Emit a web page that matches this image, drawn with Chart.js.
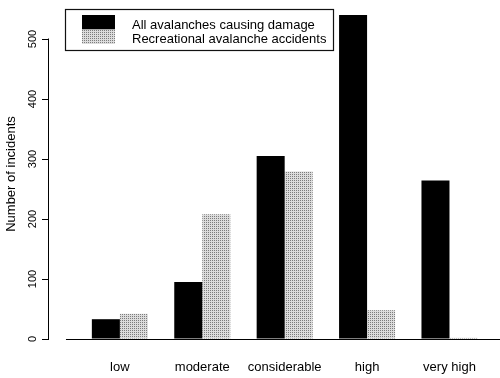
<!DOCTYPE html>
<html><head><meta charset="utf-8">
<script src="https://cdn.jsdelivr.net/npm/chart.js@4"></script>
<style>html,body{margin:0;padding:0;background:#fff}#wrap{width:500px;height:378px;position:relative}</style>
</head><body><div id="wrap"><canvas id="c"></canvas></div>
<script>
// ---- data ----
const categories = ['low', 'moderate', 'considerable', 'high', 'very high'];
const allDamage = [33, 95, 305, 540, 264];
const recreational = [42, 208, 279, 48, 2];
const seriesLabels = ['All avalanches causing damage', 'Recreational avalanche accidents'];
const yTicks = [0, 100, 200, 300, 400, 500];
const xTicks = [0, 1, 2, 3, 4];
const yAxisTitle = 'Number of incidents';

const FONT = '"Liberation Sans", Arial, Helvetica, sans-serif';
Chart.defaults.font.family = FONT;
Chart.defaults.color = '#000';

function stipple() {
  const c = document.createElement('canvas');
  c.width = 2; c.height = 2;
  const g = c.getContext('2d');
  g.fillStyle = '#dcdcdc'; g.fillRect(0, 0, 2, 2);
  g.fillStyle = '#7c7c7c'; g.fillRect(0, 0, 1, 1);
  return g.createPattern(c, 'repeat');
}
const grayFill = stipple();

const axisLines = {
  id: 'axisLines',
  afterDatasetsDraw(chart, args, o) {
    const ctx = chart.ctx, xs = chart.scales.x, ys = chart.scales.y;
    ctx.save();
    ctx.strokeStyle = '#000';
    ctx.lineWidth = 1;
    const yx = Math.round(ys.right) - 0.5;
    ctx.beginPath();
    ctx.moveTo(yx, Math.round(ys.getPixelForValue(yTicks[0])) + 0.5);
    ctx.lineTo(yx, Math.round(ys.getPixelForValue(yTicks[yTicks.length - 1])) - 0.5);
    ctx.stroke();
    const by = Math.round(ys.getPixelForValue(0)) + 0.5;
    ctx.beginPath();
    ctx.moveTo(xs.getPixelForValue(o.baselineFrom), by);
    ctx.lineTo(chart.chartArea.right, by);
    ctx.stroke();
    ctx.restore();
  }
};

const boxLegend = {
  id: 'boxLegend',
  afterDraw(chart, args, o) {
    const ctx = chart.ctx;
    ctx.save();
    ctx.fillStyle = '#fff';
    ctx.fillRect(o.x, o.y, o.w, o.h);
    ctx.strokeStyle = '#111';
    ctx.lineWidth = 1.2;
    ctx.strokeRect(o.x + 0.5, o.y + 0.5, o.w, o.h);
    ctx.font = '13px ' + FONT;
    ctx.textBaseline = 'alphabetic';
    chart.data.datasets.forEach((ds, i) => {
      ctx.fillStyle = ds.backgroundColor;
      ctx.fillRect(o.swX, o.swY + i * o.swH, o.swW, o.swH);
      ctx.fillStyle = '#000';
      ctx.fillText(ds.label, o.textX, o.baseY + i * o.rowH);
    });
    ctx.restore();
  }
};

new Chart(document.getElementById('c'), {
  type: 'bar',
  data: {
    datasets: [
      {
        label: seriesLabels[0],
        data: categories.map((c, i) => ({ x: i, y: allDamage[i] })),
        backgroundColor: '#000',
        borderWidth: 0,
        categoryPercentage: 0.68,
        barPercentage: 1
      },
      {
        label: seriesLabels[1],
        data: categories.map((c, i) => ({ x: i, y: recreational[i] })),
        backgroundColor: grayFill,
        borderWidth: 0,
        categoryPercentage: 0.68,
        barPercentage: 1
      }
    ]
  },
  options: {
    responsive: true,
    maintainAspectRatio: false,
    animation: false,
    devicePixelRatio: 1,
    layout: { padding: { top: 9, right: 0, bottom: 0, left: 0 } },
    scales: {
      x: {
        type: 'linear',
        offset: false,
        min: -0.86,
        max: 4.613,
        afterBuildTicks: s => { s.ticks = xTicks.map(v => ({ value: v })); },
        afterFit: s => { s.height = 39; },
        ticks: {
          callback: v => categories[v],
          autoSkip: false,
          maxRotation: 0,
          minRotation: 0,
          padding: 21,
          font: { size: 13 },
          color: '#000'
        },
        grid: { display: false, drawTicks: false, offset: false },
        border: { display: false }
      },
      y: {
        type: 'linear',
        min: 0,
        max: 550,
        afterBuildTicks: s => { s.ticks = yTicks.map(v => ({ value: v })); },
        afterFit: s => { s.width = 49; },
        ticks: {
          minRotation: 90,
          maxRotation: 90,
          crossAlign: 'center',
          padding: 0,
          font: { size: 11 },
          color: '#000'
        },
        grid: { drawOnChartArea: false, tickLength: 7, color: '#000', lineWidth: 1 },
        border: { display: false },
        title: {
          display: true,
          text: yAxisTitle,
          font: { size: 13 },
          color: '#000',
          padding: { top: 4, bottom: 0 }
        }
      }
    },
    plugins: {
      legend: { display: false },
      tooltip: { enabled: false },
      axisLines: { baselineFrom: -0.654 },
      boxLegend: { x: 65, y: 9, w: 268, h: 41, swX: 82, swY: 15, swW: 33, swH: 14.5, textX: 132, baseY: 29, rowH: 13.7 }
    }
  },
  plugins: [axisLines, boxLegend]
});
</script>
</body></html>
